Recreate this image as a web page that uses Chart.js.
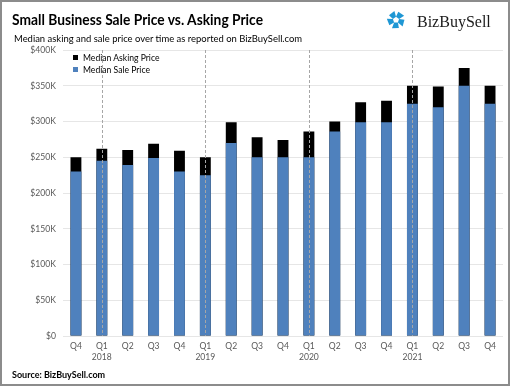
<!DOCTYPE html>
<html>
<head>
<meta charset="utf-8">
<script src="https://cdn.jsdelivr.net/npm/chart.js@4.4.0/dist/chart.umd.min.js"></script>
<style>
html,body{margin:0;padding:0;background:#fff;}
#wrap{position:relative;width:511px;height:387px;overflow:hidden;font-family:Lato,"Open Sans",sans-serif;}
#frame{position:absolute;left:0;top:0;width:506px;height:382px;border:2px solid #8c8c8c;pointer-events:none;}
canvas{position:absolute;left:0;top:0;}
.txt{position:absolute;white-space:nowrap;line-height:1;color:#000;transform-origin:0 0;}
#title{left:12px;top:12px;font-size:15.5px;font-weight:bold;transform:scaleX(0.89);}
#subtitle{left:14px;top:33px;font-size:10px;transform:scaleX(0.945);}
#logo{position:absolute;left:386px;top:10px;}
#logoText{left:417px;top:14px;font-family:"Liberation Serif","DejaVu Serif",serif;font-size:16px;color:#1a1a1a;}
#legend{position:absolute;left:73px;top:52px;font-size:8.6px;color:#000;}
#legend div{height:12px;line-height:12px;white-space:nowrap;}
#legend span{display:inline-block;width:5px;height:5px;margin-right:5px;vertical-align:1px;}
#source{left:12px;top:370px;font-size:9px;font-weight:bold;}
</style>
</head>
<body>
<div id="wrap">
  <canvas id="chart" width="511" height="387"></canvas>
  <div class="txt" id="title">Small Business Sale Price vs. Asking Price</div>
  <div class="txt" id="subtitle">Median asking and sale price over time as reported on BizBuySell.com</div>
  <svg id="logo" width="20" height="20" viewBox="-13 -13 26 26"><g id="blades" fill="#1f97d4"></g></svg>
  <div class="txt" id="logoText">BizBuySell</div>
  <div id="legend"></div>
  <div class="txt" id="source">Source: BizBuySell.com</div>
  <div id="frame"></div>
</div>
<script>
const quarters = ["Q4","Q1","Q2","Q3","Q4","Q1","Q2","Q3","Q4","Q1","Q2","Q3","Q4","Q1","Q2","Q3","Q4"];
const years = ["","2018","","","","2019","","","","2020","","","","2021","","",""];
// valori in dollari
const askingPrice = [250000,262000,260000,269000,259000,250000,299000,278000,274000,286000,300000,327000,329000,350000,349000,375000,350000];
const salePrice = [230000,245000,239000,249000,230000,225000,270000,250000,250000,250000,286000,299000,299000,325000,320000,350000,325000];
const yTicks = [0,50000,100000,150000,200000,250000,300000,350000,400000];

const $ = id => document.getElementById(id);

// Logo: girandola a 5 pale
(function(){
  const pt = (r,a)=>{const t=a*Math.PI/180;return [r*Math.cos(t),r*Math.sin(t)];};
  let html="";
  for(let k=0;k<5;k++){
    const a=-90+72*k;
    const p=[pt(4.2,a),pt(4.2,a+72),pt(12,a+62),pt(11,a+16)];
    html+=`<polygon points="${p.map(q=>q[0].toFixed(2)+","+q[1].toFixed(2)).join(" ")}"/>`;
  }
  $("blades").innerHTML=html;
})();

const labels = quarters.map((q,i)=>years[i]?[q,years[i]]:q);

// linee tratteggiate sui Q1
const yearLines = {
  id:"yearLines",
  afterDatasetsDraw(chart){
    const {ctx, chartArea:a, scales:{x}} = chart;
    ctx.save();
    ctx.strokeStyle="#a6a6a6";
    ctx.lineWidth=1;
    ctx.setLineDash([3,2]);
    years.forEach((y,i)=>{
      if(!y) return;
      const px=Math.round(x.getPixelForValue(i))+0.5;
      ctx.beginPath();
      ctx.moveTo(px,a.top);
      ctx.lineTo(px,a.bottom);
      ctx.stroke();
    });
    ctx.restore();
  }
};

const font = {family:"Lato, 'Open Sans', sans-serif", size:8.6};

const chart = new Chart($("chart").getContext("2d"),{
  type:"bar",
  data:{
    labels,
    datasets:[
      {label:"Median Asking Price", data:askingPrice, backgroundColor:"#000000", order:1},
      {label:"Median Sale Price", data:salePrice, backgroundColor:"#4f81bd", order:0}
    ]
  },
  options:{
    responsive:false,
    animation:false,
    events:[],
    layout:{padding:{left:0,right:8,top:50,bottom:21}},
    datasets:{bar:{barPercentage:0.42,categoryPercentage:1}},
    plugins:{legend:{display:false},tooltip:{enabled:false}},
    scales:{
      x:{
        stacked:true,
        grid:{display:false,drawTicks:false},
        border:{display:false},
        ticks:{color:"#595959",font:{...font,lineHeight:1.25},padding:5,maxRotation:0,autoSkip:false},
        afterFit(s){s.height=30;}
      },
      y:{
        min:0,max:400000,
        afterBuildTicks(s){s.ticks=yTicks.map(v=>({value:v}));},
        grid:{color:"#e6e6e6",drawTicks:false},
        border:{display:false},
        ticks:{color:"#595959",font,padding:7,callback:v=>v===0?"$0":"$"+(v/1000)+"K"},
        afterFit(s){s.width=63;}
      }
    }
  },
  plugins:[yearLines]
});

// legenda
$("legend").innerHTML = chart.data.datasets.map(d=>
  `<div><span style="background:${d.backgroundColor}"></span>${d.label}</div>`).join("");
</script>
</body>
</html>
